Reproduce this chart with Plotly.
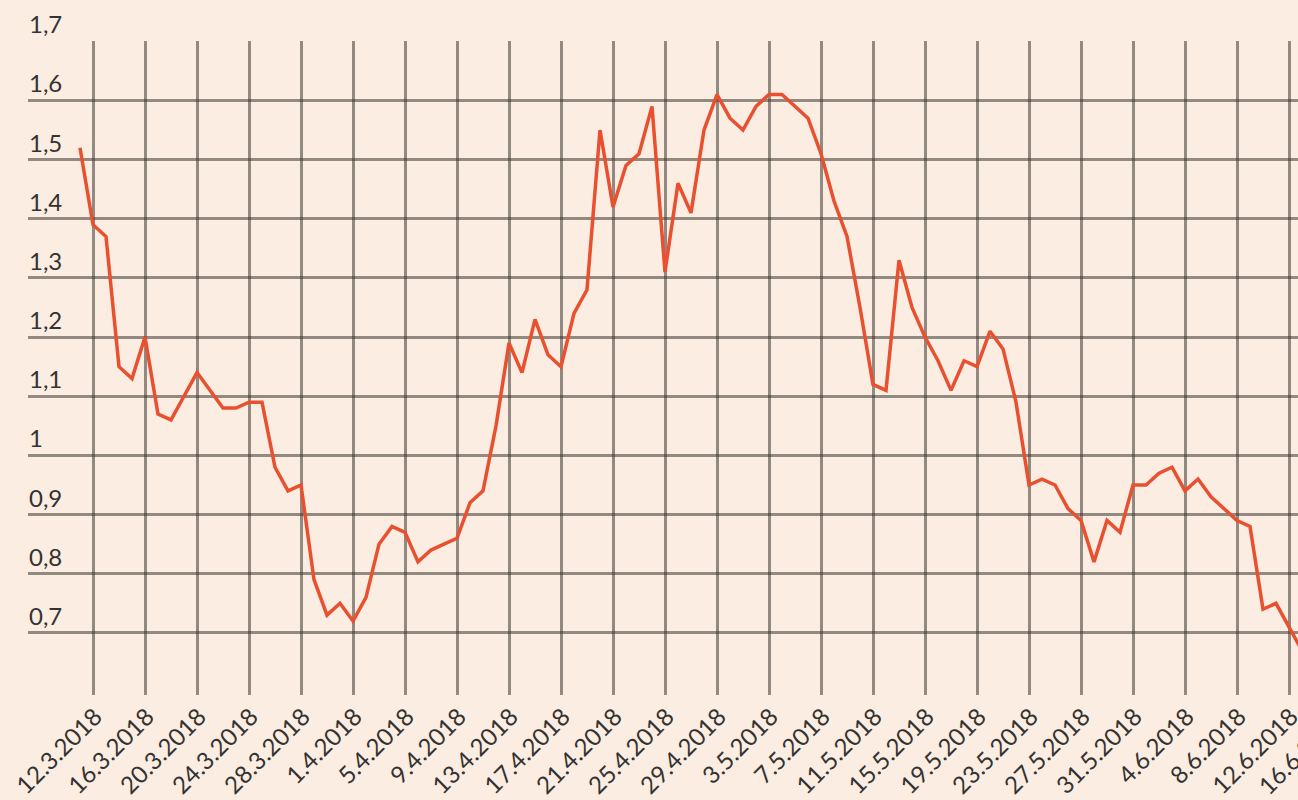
import pandas as pd
import plotly.graph_objects as go

start_date = "2018-03-11"
values = [
    1.52, 1.39, 1.37, 1.15, 1.13, 1.20, 1.07, 1.06, 1.10, 1.14,
    1.11, 1.08, 1.08, 1.09, 1.09, 0.98, 0.94, 0.95, 0.79, 0.73,
    0.75, 0.72, 0.76, 0.85, 0.88, 0.87, 0.82, 0.84, 0.85, 0.86,
    0.92, 0.94, 1.05, 1.19, 1.14, 1.23, 1.17, 1.15, 1.24, 1.28,
    1.55, 1.42, 1.49, 1.51, 1.59, 1.31, 1.46, 1.41, 1.55, 1.61,
    1.57, 1.55, 1.59, 1.61, 1.61, 1.59, 1.57, 1.51, 1.43, 1.37,
    1.25, 1.12, 1.11, 1.33, 1.25, 1.20, 1.16, 1.11, 1.16, 1.15,
    1.21, 1.18, 1.09, 0.95, 0.96, 0.95, 0.91, 0.89, 0.82, 0.89,
    0.87, 0.95, 0.95, 0.97, 0.98, 0.94, 0.96, 0.93, 0.91, 0.89,
    0.88, 0.74, 0.75, 0.71, 0.67,
]
dates = pd.date_range(start_date, periods=len(values), freq="D")

x_tick_dates = ["2018-03-12", "2018-03-16", "2018-03-20", "2018-03-24", "2018-03-28",
                "2018-04-01", "2018-04-05", "2018-04-09", "2018-04-13", "2018-04-17",
                "2018-04-21", "2018-04-25", "2018-04-29", "2018-05-03", "2018-05-07",
                "2018-05-11", "2018-05-15", "2018-05-19", "2018-05-23", "2018-05-27",
                "2018-05-31", "2018-06-04", "2018-06-08", "2018-06-12"]
x_tick_labels = ["12.3.2018", "16.3.2018", "20.3.2018", "24.3.2018", "28.3.2018",
                 "1.4.2018", "5.4.2018", "9.4.2018", "13.4.2018", "17.4.2018",
                 "21.4.2018", "25.4.2018", "29.4.2018", "3.5.2018", "7.5.2018",
                 "11.5.2018", "15.5.2018", "19.5.2018", "23.5.2018", "27.5.2018",
                 "31.5.2018", "4.6.2018", "8.6.2018", "12.6.2018"]
cut_label = "16.6.2018"
y_ticks = [0.7, 0.8, 0.9, 1.0, 1.1, 1.2, 1.3, 1.4, 1.5, 1.6, 1.7]
y_labels = ["0,7", "0,8", "0,9", "1", "1,1", "1,2", "1,3", "1,4", "1,5", "1,6", "1,7"]

BG = "#FBEDE1"
GRID = "rgba(60,55,50,0.55)"
TXT = "#333333"
FONT = "Lato"
FSIZE = 24
XFSIZE = 24

fig = go.Figure()
fig.add_trace(go.Scatter(
    x=dates, y=values, mode="lines",
    line=dict(color="#E8502F", width=3.5),
    hoverinfo="skip", showlegend=False,
))

annotations = []
for v, lab in zip(y_ticks, y_labels):
    annotations.append(dict(
        x=0, xref="paper", y=v, yref="y", text=lab, showarrow=False,
        xanchor="left", yanchor="bottom", xshift=-1, yshift=1,
        font=dict(family=FONT, size=FSIZE, color=TXT),
    ))
annotations.append(dict(
    x=(1300 - 28) / 1270, xref="paper", y=0, yref="paper", text=cut_label,
    showarrow=False, xanchor="center", yanchor="middle", yshift=-56,
    textangle=-45, font=dict(family=FONT, size=XFSIZE, color=TXT),
))

fig.update_layout(
    width=1298, height=800,
    margin=dict(l=28, r=0, t=41, b=105, autoexpand=False),
    paper_bgcolor=BG, plot_bgcolor=BG,
    annotations=annotations,
    xaxis=dict(
        range=["2018-03-07", "2018-06-12 16:36"],
        tickmode="array", tickvals=x_tick_dates, ticktext=x_tick_labels,
        tickangle=-45, showgrid=True, gridcolor=GRID, gridwidth=3,
        zeroline=False, showline=False, ticks="", automargin=False,
        ticklabelstandoff=2, ticklabelshift=2, ticklabeloverflow="allow",
        tickfont=dict(family=FONT, size=XFSIZE, color=TXT),
    ),
    yaxis=dict(
        range=[0.595, 1.7005], automargin=False,
        tickmode="array", tickvals=y_ticks, showticklabels=False,
        showgrid=True, gridcolor=GRID, gridwidth=3,
        zeroline=False, showline=False, ticks="",
    ),
)

fig.write_html(
    "out.html",
    config={"displayModeBar": False},
    post_script="document.body.style.margin='0';document.body.style.background='" + BG + "';",
)
